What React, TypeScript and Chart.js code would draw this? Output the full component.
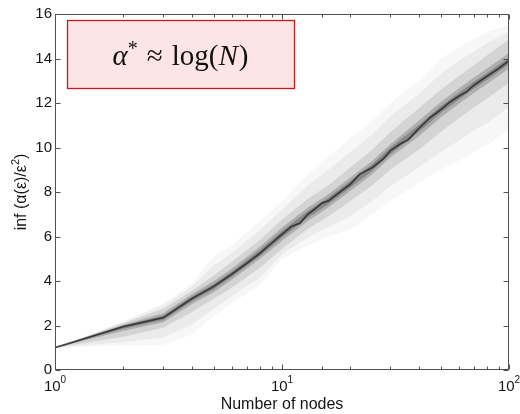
import React, { useEffect, useRef } from 'react';
import { Chart, registerables } from 'chart.js';
Chart.register(...registerables);

// Number of nodes and the central (darkest) trace
const nodesMedian = [1, 2, 3, 4, 5, 6, 7, 8, 9, 10, 11, 12, 13, 14, 15, 16, 18, 20, 22, 25, 28, 30, 33, 36, 40, 45, 50, 55, 60, 65, 70, 80, 90, 100];
const median = [1.0, 1.95, 2.35, 3.2, 3.75, 4.3, 4.8, 5.25, 5.7, 6.1, 6.45, 6.6, 7.0, 7.25, 7.5, 7.6, 8.0, 8.35, 8.8, 9.1, 9.5, 9.85, 10.15, 10.35, 10.85, 11.35, 11.7, 12.05, 12.3, 12.5, 12.8, 13.2, 13.55, 13.9];

// Envelopes of the grey spread of realisations
const nodesBand = [1, 2, 3, 4, 5, 6, 8, 10, 13, 16, 20, 25, 30, 40, 50, 60, 70, 80, 100];
const outerUpper = [1, 2.2, 3.0, 3.9, 5.1, 5.6, 6.7, 7.6, 8.8, 9.6, 10.4, 11.2, 12.0, 13.0, 14.0, 14.5, 14.9, 15.2, 15.5];
const outerLower = [1, 1.1, 1.12, 1.6, 2.4, 3.0, 3.8, 5.0, 5.6, 6.0, 6.3, 7.0, 7.6, 8.4, 9.0, 9.4, 9.8, 10.1, 10.8];
const wideUpper = [1, 2.15, 2.9, 3.75, 4.7, 5.25, 6.3, 7.2, 8.3, 9.0, 9.8, 10.6, 11.4, 12.4, 13.3, 13.9, 14.3, 14.7, 15.2];
const wideLower = [1, 1.25, 1.45, 2.05, 2.75, 3.3, 4.15, 5.2, 5.95, 6.4, 6.9, 7.6, 8.25, 9.1, 9.8, 10.3, 10.75, 11.1, 11.8];
const midUpper = [1, 2.1, 2.75, 3.55, 4.25, 4.85, 5.85, 6.75, 7.7, 8.3, 9.1, 9.9, 10.7, 11.75, 12.6, 13.2, 13.7, 14.15, 14.85];
const midLower = [1, 1.5, 1.9, 2.6, 3.2, 3.7, 4.6, 5.45, 6.35, 6.9, 7.6, 8.3, 9.0, 9.9, 10.7, 11.3, 11.8, 12.2, 12.9];
const innerUpper = [1, 2.03, 2.55, 3.4, 4.0, 4.55, 5.55, 6.4, 7.3, 7.9, 8.65, 9.4, 10.15, 11.2, 12.05, 12.65, 13.15, 13.55, 14.25];
const innerLower = [1, 1.75, 2.15, 2.95, 3.5, 4.05, 5.0, 5.8, 6.7, 7.3, 8.05, 8.8, 9.55, 10.5, 11.35, 11.95, 12.45, 12.85, 13.55];
const coreUpper = [1, 1.99, 2.45, 3.3, 3.87, 4.42, 5.4, 6.25, 7.15, 7.75, 8.5, 9.25, 10.0, 11.0, 11.85, 12.45, 12.95, 13.35, 14.05];
const coreLower = [1, 1.85, 2.25, 3.08, 3.63, 4.18, 5.12, 5.95, 6.85, 7.45, 8.2, 8.95, 9.7, 10.7, 11.55, 12.15, 12.65, 13.05, 13.75];

const yTicks = [0, 2, 4, 6, 8, 10, 12, 14, 16];
const xTitle = 'Number of nodes';
const yTitleMain = 'inf (α(ε)/ε';
const yTitleSup = '2';
const yTitleEnd = ')';

const FONT = '"Liberation Sans", Arial, Helvetica, sans-serif';

function pts(xs: number[], ys: number[]) {
  return xs.map((x, i) => ({ x, y: ys[i] }));
}

const framePlugin = {
  id: 'frame',
  afterDraw(chart: any) {
    const { ctx, chartArea: a, scales } = chart;
    const xs = scales.x;
    const ys = scales.y;
    ctx.save();
    // box
    ctx.strokeStyle = '#505050';
    ctx.lineWidth = 1;
    const L = Math.round(a.left) + 0.5;
    const T = Math.round(a.top) + 0.5;
    const R = Math.round(a.right) - 0.5;
    const B = Math.round(a.bottom) - 0.5;
    ctx.strokeRect(L, T, R - L, B - T);
    ctx.beginPath();
    yTicks.forEach((v) => {
      const y = Math.round(ys.getPixelForValue(v)) + 0.5;
      ctx.moveTo(L, y); ctx.lineTo(L + 5, y);
      ctx.moveTo(R, y); ctx.lineTo(R - 5, y);
    });
    xs.ticks.forEach((t: any) => {
      const lg = Math.log10(t.value);
      const major = Math.abs(lg - Math.round(lg)) < 1e-9;
      const len = major ? 5 : 3;
      const x = Math.round(xs.getPixelForValue(t.value)) + 0.5;
      ctx.moveTo(x, B); ctx.lineTo(x, B - len);
      ctx.moveTo(x, T); ctx.lineTo(x, T + len);
    });
    ctx.stroke();

    // x tick labels 10^k
    ctx.fillStyle = '#151515';
    ctx.textBaseline = 'alphabetic';
    ctx.textAlign = 'left';
    xs.ticks.forEach((t: any) => {
      const lg = Math.log10(t.value);
      if (Math.abs(lg - Math.round(lg)) > 1e-9) return;
      const exp = String(Math.round(lg));
      const x = xs.getPixelForValue(t.value);
      ctx.font = `15px ${FONT}`;
      const w1 = ctx.measureText('10').width;
      ctx.font = `10px ${FONT}`;
      const w2 = ctx.measureText(exp).width;
      const x0 = x - (w1 + w2) / 2;
      ctx.font = `15px ${FONT}`;
      ctx.fillText('10', x0, a.bottom + 21);
      ctx.font = `10px ${FONT}`;
      ctx.fillText(exp, x0 + w1, a.bottom + 13);
    });

    // y title, rotated
    ctx.save();
    ctx.translate(26, (a.top + a.bottom) / 2);
    ctx.rotate(-Math.PI / 2);
    ctx.font = `16px ${FONT}`;
    const m1 = ctx.measureText(yTitleMain).width;
    const m3 = ctx.measureText(yTitleEnd).width;
    ctx.font = `11px ${FONT}`;
    const m2 = ctx.measureText(yTitleSup).width;
    let tx = -(m1 + m2 + m3) / 2;
    ctx.font = `16px ${FONT}`;
    ctx.fillText(yTitleMain, tx, 0);
    tx += m1;
    ctx.font = `11px ${FONT}`;
    ctx.fillText(yTitleSup, tx, -7);
    tx += m2;
    ctx.font = `16px ${FONT}`;
    ctx.fillText(yTitleEnd, tx, 0);
    ctx.restore();

    // annotation box
    const bx = a.left + 12, by = a.top + 6, bw = 227, bh = 68;
    ctx.fillStyle = '#fde4e5';
    ctx.fillRect(bx, by, bw, bh);
    ctx.strokeStyle = '#c41a1a';
    ctx.lineWidth = 1.3;
    ctx.strokeRect(bx + 0.5, by + 0.5, bw, bh);

    // formula  α* ≈ log(N)
    const serif = '"Liberation Serif", "Times New Roman", serif';
    const parts = [
      { t: 'α', f: `italic 29px ${serif}`, dy: 0, gap: 0 },
      { t: '*', f: `20px ${serif}`, dy: -10, gap: 9 },
      { t: '≈', f: `29px ${serif}`, dy: 0, gap: 9 },
      { t: 'log(', f: `29px ${serif}`, dy: 0, gap: 0 },
      { t: 'N', f: `italic 29px ${serif}`, dy: 0, gap: 1 },
      { t: ')', f: `29px ${serif}`, dy: 0, gap: 0 },
    ];
    let total = 0;
    const widths = parts.map((p) => { ctx.font = p.f; const w = ctx.measureText(p.t).width; total += w + p.gap; return w; });
    let cx = bx + bw / 2 - total / 2;
    const base = by + 45;
    ctx.fillStyle = '#111';
    parts.forEach((p, i) => {
      ctx.font = p.f;
      ctx.fillText(p.t, cx, base + p.dy);
      cx += widths[i] + p.gap;
    });
    ctx.restore();
  },
};

export default function App() {
  const ref = useRef<HTMLCanvasElement | null>(null);
  useEffect(() => {
    if (!ref.current) return;
    const band = (data: any, color: string, fill: any) => ({
      data,
      borderWidth: 0,
      borderColor: 'rgba(0,0,0,0)',
      backgroundColor: color,
      pointRadius: 0,
      tension: 0,
      fill,
    });
    const chart = new Chart(ref.current, {
      type: 'line',
      data: {
        datasets: [
          {
            data: pts(nodesMedian, median),
            borderColor: 'rgba(45,45,45,0.85)',
            borderWidth: 1.8,
            pointRadius: 0,
            tension: 0,
            fill: false,
          } as any,
          band(pts(nodesBand, coreUpper), 'rgba(0,0,0,0.22)', '+1'),
          band(pts(nodesBand, coreLower), 'rgba(0,0,0,0)', false),
          band(pts(nodesBand, innerUpper), 'rgba(0,0,0,0.18)', '+1'),
          band(pts(nodesBand, innerLower), 'rgba(0,0,0,0)', false),
          band(pts(nodesBand, midUpper), 'rgba(0,0,0,0.1)', '+1'),
          band(pts(nodesBand, midLower), 'rgba(0,0,0,0)', false),
          band(pts(nodesBand, wideUpper), 'rgba(0,0,0,0.05)', '+1'),
          band(pts(nodesBand, wideLower), 'rgba(0,0,0,0)', false),
          band(pts(nodesBand, outerUpper), 'rgba(0,0,0,0.03)', '+1'),
          band(pts(nodesBand, outerLower), 'rgba(0,0,0,0)', false),
        ],
      },
      options: {
        animation: false,
        responsive: true,
        maintainAspectRatio: false,
        layout: { padding: { top: 14, right: 11, left: 0, bottom: 0 } },
        plugins: { legend: { display: false }, tooltip: { enabled: false } },
        scales: {
          x: {
            type: 'logarithmic',
            min: 1,
            max: 100,
            grid: { display: false, drawTicks: false },
            border: { display: false },
            ticks: { display: false },
            title: { display: true, text: xTitle, color: '#151515', font: { size: 16, family: FONT }, padding: 0 },
            afterFit: (s: any) => { s.height = 44; },
          },
          y: {
            type: 'linear',
            min: 0,
            max: 16,
            afterBuildTicks: (s: any) => { s.ticks = yTicks.map((v) => ({ value: v })); },
            grid: { display: false, drawTicks: false },
            border: { display: false },
            ticks: { color: '#151515', font: { size: 15, family: FONT }, padding: 3 },
            afterFit: (s: any) => { s.width = 55; },
          },
        },
      },
      plugins: [framePlugin],
    } as any);
    return () => chart.destroy();
  }, []);
  return (
    <div style={{ position: 'absolute', left: 0, top: 0, width: 520, height: 414, background: '#fff' }}>
      <canvas ref={ref} />
    </div>
  );
}
